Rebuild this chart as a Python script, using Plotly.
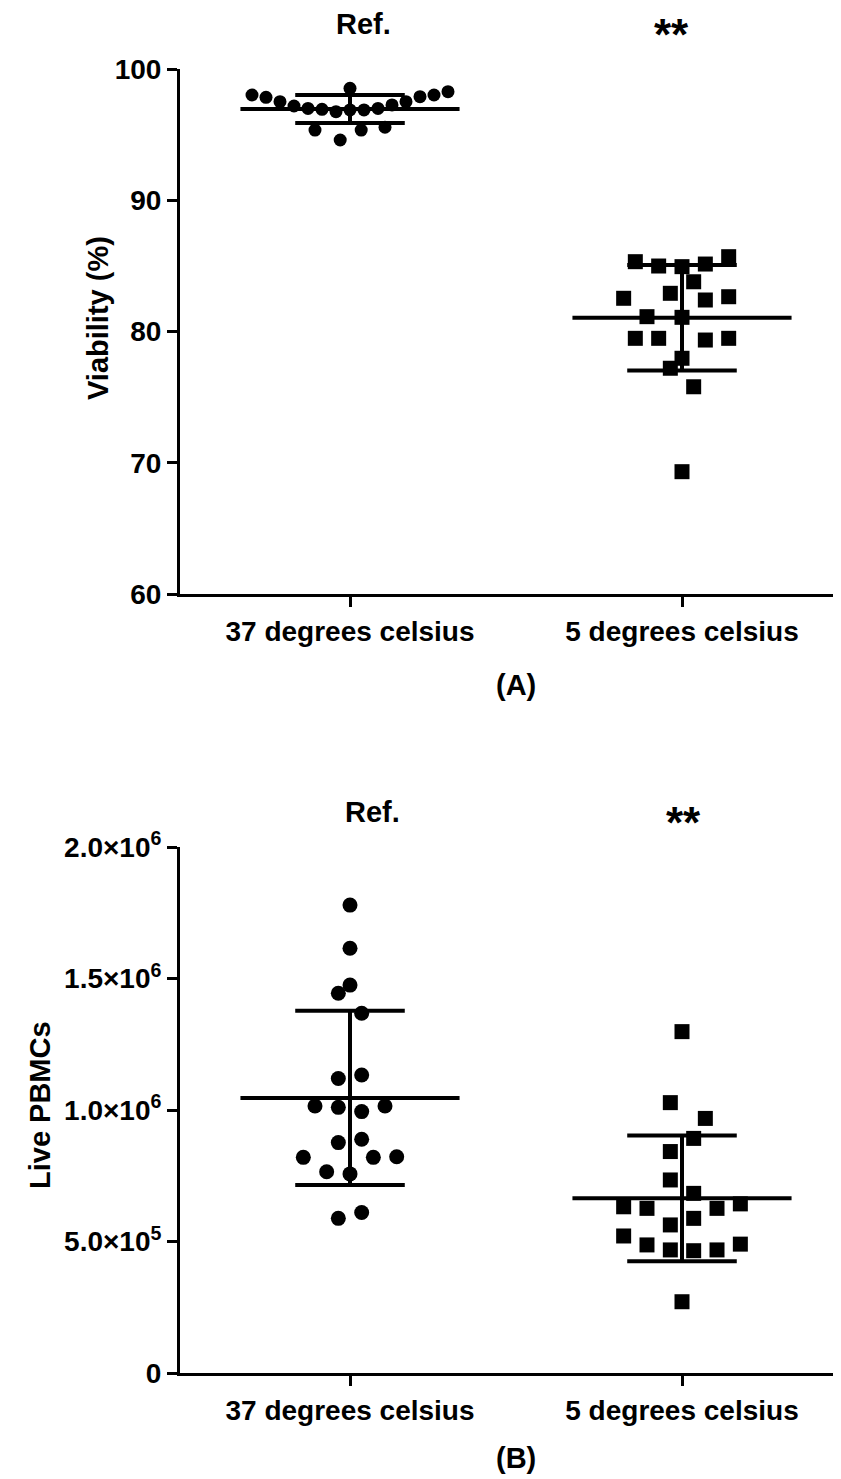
import plotly.graph_objects as go

# ---------------- data ----------------
categories = ["37 degrees celsius", "5 degrees celsius"]

# Panel A: viability (%)
via_37 = [98.02, 97.84, 97.51, 97.18, 97.00, 96.93, 96.75, 98.53, 96.88, 96.88,
          97.00, 97.26, 97.51, 97.89, 98.02, 98.27, 95.35, 94.59, 95.35, 95.56]
via_37_slot = [-7, -6, -5, -4, -3, -2, -1, 0, 0, 1,
               2, 3, 4, 5, 6, 7, -2.5, -0.7, 0.8, 2.5]
via_5 = [85.32, 84.99, 84.94, 85.14, 85.70, 83.79, 82.53, 82.91, 82.40, 82.65,
         81.13, 81.08, 79.48, 79.48, 79.35, 79.48, 77.96, 77.20, 75.79, 69.32]
via_5_slot = [-4, -2, 0, 2, 4, 1, -5, -1, 2, 4,
              -3, 0, -4, -2, 2, 4, 0, -1, 1, 0]
via_mean = [96.95, 81.05]
via_sd = [1.07, 4.02]

# Panel B: live PBMCs
pbmc_37 = [1.779e6, 1.615e6, 1.475e6, 1.444e6, 1.368e6, 1.120e6, 1.133e6, 1.015e6, 1.010e6, 0.994e6,
           1.015e6, 0.876e6, 0.889e6, 0.820e6, 0.820e6, 0.822e6, 0.765e6, 0.757e6, 0.588e6, 0.610e6]
pbmc_37_slot = [0, 0, 0, -1, 1, -1, 1, -3, -1, 1,
                3, -1, 1, -4, 2, 4, -2, 0, -1, 1]
pbmc_5 = [1.298e6, 1.028e6, 0.968e6, 0.892e6, 0.842e6, 0.734e6, 0.683e6, 0.632e6, 0.626e6, 0.626e6,
          0.643e6, 0.588e6, 0.563e6, 0.521e6, 0.487e6, 0.468e6, 0.465e6, 0.468e6, 0.490e6, 0.271e6]
pbmc_5_slot = [0, -1, 2, 1, -1, -1, 1, -5, -3, 3,
               5, 1, -1, -5, -3, -1, 1, 3, 5, 0]
pbmc_mean = [1.046e6, 0.664e6]
pbmc_sd = [0.331e6, 0.239e6]

pbmc_tickvals = [0, 5e5, 1e6, 1.5e6, 2e6]
pbmc_ticktext = ["0", "5.0×10<sup>5</sup>", "1.0×10<sup>6</sup>", "1.5×10<sup>6</sup>", "2.0×10<sup>6</sup>"]
via_tickvals = [60, 70, 80, 90, 100]

# ---------------- styling ----------------
VIEW_W, VIEW_H = 841, 1479
OFF = 8                      # default page margin around the plot div
W, H = VIEW_W - OFF, VIEW_H - OFF
FONT = "Liberation Sans, Arial, Helvetica, sans-serif"
PX_PER_CAT = 332.0
SLOT_A37 = 14.0 / PX_PER_CAT
SLOT = 11.67 / PX_PER_CAT
MEAN_HALF = 0.33
CAP_HALF = 0.165
LW = 4

fig = go.Figure()


def add_group(xi, vals, slots, slotw, symbol, size, xa, ya):
    fig.add_trace(go.Scatter(
        x=[xi + s * slotw for s in slots], y=vals, mode="markers",
        marker=dict(symbol=symbol, size=size, color="black", line=dict(width=0)),
        xaxis=xa, yaxis=ya, showlegend=False, hoverinfo="skip"))


def add_meansd(means, sds, xa, ya):
    for i, (m, s) in enumerate(zip(means, sds)):
        lo, hi = m - s, m + s
        xs = [i - MEAN_HALF, i + MEAN_HALF, None,
              i - CAP_HALF, i + CAP_HALF, None,
              i - CAP_HALF, i + CAP_HALF, None,
              i, i]
        ys = [m, m, None, hi, hi, None, lo, lo, None, lo, hi]
        fig.add_trace(go.Scatter(x=xs, y=ys, mode="lines",
                                 line=dict(color="black", width=LW),
                                 xaxis=xa, yaxis=ya, showlegend=False, hoverinfo="skip"))


add_group(0, via_37, via_37_slot, SLOT_A37, "circle", 13, "x", "y")
add_group(1, via_5, via_5_slot, SLOT, "square", 15, "x", "y")
add_meansd(via_mean, via_sd, "x", "y")

add_group(0, pbmc_37, pbmc_37_slot, SLOT, "circle", 15, "x2", "y2")
add_group(1, pbmc_5, pbmc_5_slot, SLOT, "square", 15, "x2", "y2")
add_meansd(pbmc_mean, pbmc_sd, "x2", "y2")

x_left_px = 180
xrange = [-(350 - x_left_px) / PX_PER_CAT, 1 + (VIEW_W - 682) / PX_PER_CAT]
xdom = [(x_left_px - OFF) / W, 1.0]


def pdom(top_px, bot_px):
    return [1 - (bot_px - OFF) / H, 1 - (top_px - OFF) / H]


axis_common = dict(showline=True, linecolor="black", linewidth=3, ticks="outside",
                   ticklen=10, tickwidth=3, tickcolor="black", showgrid=False,
                   zeroline=False, mirror=False, automargin=False,
                   tickfont=dict(family=FONT, size=28, color="black", weight="bold"))

fig.update_layout(
    template="none",
    width=W, height=H, margin=dict(l=0, r=0, t=0, b=0, pad=0, autoexpand=False),
    paper_bgcolor="white", plot_bgcolor="white",
    font=dict(family=FONT, color="black", weight="bold"),
    xaxis=dict(domain=xdom, range=xrange, tickvals=[0, 1], ticktext=categories,
               anchor="y", **axis_common),
    yaxis=dict(domain=pdom(69, 594), range=[60, 100], tickvals=via_tickvals,
               anchor="x", **axis_common),
    xaxis2=dict(domain=xdom, range=xrange, tickvals=[0, 1], ticktext=categories,
                anchor="y2", **axis_common),
    yaxis2=dict(domain=pdom(847, 1373), range=[0, 2e6], tickvals=pbmc_tickvals,
                ticktext=pbmc_ticktext, anchor="x2", **axis_common),
)

ann_font = dict(family=FONT, size=29, color="black", weight="bold")
title_font = dict(family=FONT, size=29, color="black", weight="bold")
star_font = dict(family=FONT, size=44, color="black", weight="bold")


def ann(text, xpx, ypx, font, angle=0, yanchor="middle"):
    fig.add_annotation(text=text, x=(xpx - OFF) / W, y=1 - (ypx - OFF) / H,
                       xref="paper", yref="paper",
                       showarrow=False, font=font, textangle=angle,
                       xanchor="center", yanchor=yanchor)


ann("Ref.", 363, 24, ann_font)
ann("**", 671, 8, star_font, yanchor="top")
ann("Viability (%)", 98, 318, title_font, -90)
ann("(A)", 516, 685, ann_font)

ann("Ref.", 372, 812, ann_font)
ann("**", 683, 796, star_font, yanchor="top")
ann("Live PBMCs", 40, 1105, title_font, -90)
ann("(B)", 516, 1458, ann_font)

fig.write_html("out.html")
